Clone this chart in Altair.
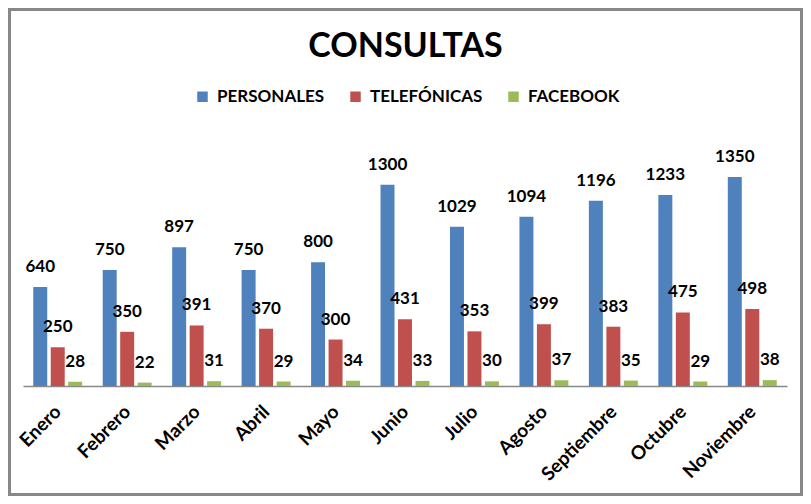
import altair as alt
import pandas as pd

months = ["Enero", "Febrero", "Marzo", "Abril", "Mayo", "Junio", "Julio",
          "Agosto", "Septiembre", "Octubre", "Noviembre"]
series = ["PERSONALES", "TELEFÓNICAS", "FACEBOOK"]
personales = [640, 750, 897, 750, 800, 1300, 1029, 1094, 1196, 1233, 1350]
telefonicas = [250, 350, 391, 370, 300, 431, 353, 399, 383, 475, 498]
facebook = [28, 22, 31, 29, 34, 33, 30, 37, 35, 29, 38]
colors = ["#4F81BD", "#C0504D", "#9BBB59"]
title_text = "CONSULTAS"

rows = []
for s, vals in zip(series, [personales, telefonicas, facebook]):
    for m, v in zip(months, vals):
        rows.append({"mes": m, "serie": s, "valor": v})
df = pd.DataFrame(rows)

FONT = "Lato"
W, H = 795, 488
BASE = 378

x = alt.X("mes:N", sort=months, title=None,
          scale=alt.Scale(paddingInner=0.245, paddingOuter=0.1225,
                          range=[15, 779]),
          axis=alt.Axis(labelAngle=-45, labelFont=FONT, labelFontSize=19,
                        labelFontWeight="bold", labelColor="black",
                        labelAlign="right", labelBaseline="top",
                        labelPadding=16, labelOffset=-6, ticks=False,
                        domainColor="#888888", domainWidth=1.5, grid=False,
                        offset=-(H - BASE)))
xo = alt.XOffset("serie:N", sort=series,
                 scale=alt.Scale(paddingInner=0.2, paddingOuter=0.1))
y = alt.Y("valor:Q", scale=alt.Scale(domain=[0, 1600], range=[BASE, 130.3]),
          axis=None)

base = alt.Chart(df)

bars = base.mark_bar().encode(
    x=x, xOffset=xo, y=y,
    color=alt.Color("serie:N", sort=series,
                    scale=alt.Scale(domain=series, range=colors),
                    legend=alt.Legend(title=None, orient="none",
                                      direction="horizontal",
                                      legendX=186, legendY=80,
                                      symbolType="square", symbolSize=110,
                                      symbolStrokeWidth=0,
                                      labelFont=FONT, labelFontSize=17,
                                      labelFontWeight="bold",
                                      labelColor="black",
                                      columnPadding=22, symbolOffset=0,
                                      labelOffset=6)),
)

labels = base.mark_text(font=FONT, fontSize=17, fontWeight="bold",
                        color="black", baseline="alphabetic", dy=-15).encode(
    x=x, xOffset=xo, y=y, text="valor:Q")

title = alt.Chart(pd.DataFrame({"t": [title_text]})).mark_text(
    font=FONT, fontSize=34, fontWeight="bold", color="black",
    align="center", baseline="alphabetic").encode(
    x=alt.value(W / 2), y=alt.value(49), text="t:N")

border = alt.Chart(pd.DataFrame({"a": [0]})).mark_rect(
    fill=None, stroke="#888888", strokeWidth=3).encode(
    x=alt.value(1.5), x2=alt.value(W - 1.5),
    y=alt.value(1.5), y2=alt.value(H - 1.5))

chart = alt.layer(bars, labels, title, border).properties(
    width=W, height=H,
    padding=0,
    autosize=alt.AutoSizeParams(type="none"),
).configure_view(stroke=None).configure(background="white")

chart.save("out.html", embed_options={"renderer": "svg", "actions": False})
